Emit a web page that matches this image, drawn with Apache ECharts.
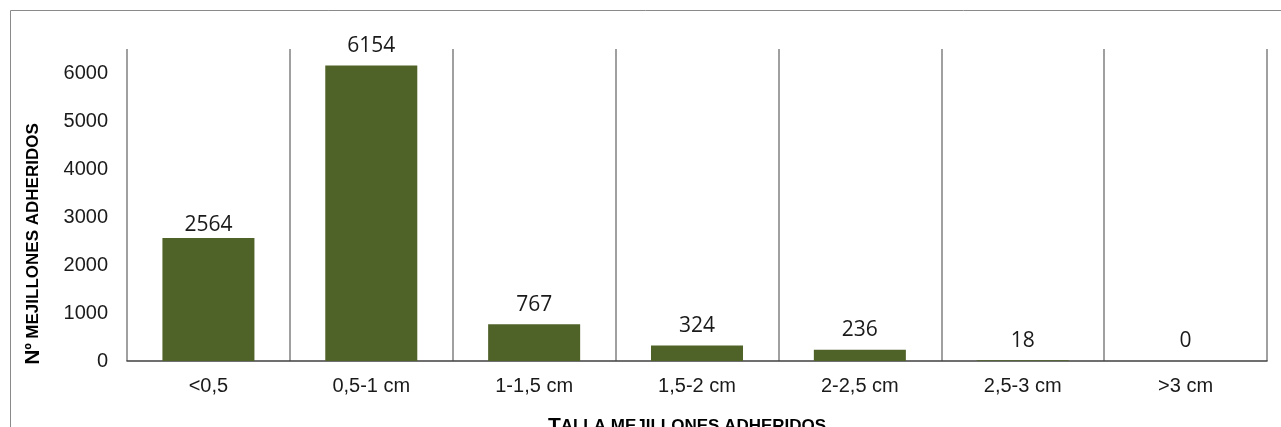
<!DOCTYPE html>
<html>
<head>
<meta charset="utf-8">
<script src="https://cdn.jsdelivr.net/npm/echarts@6/dist/echarts.min.js"></script>
<style>
html,body{margin:0;padding:0;background:#fff;}
#c{width:1281px;height:427px;}
</style>
</head>
<body>
<div id="c"></div>
<script>
const categories = ['<0,5', '0,5-1 cm', '1-1,5 cm', '1,5-2 cm', '2-2,5 cm', '2,5-3 cm', '>3 cm'];
const values = [2564, 6154, 767, 324, 236, 18, 0];
const yTicks = [0, 1000, 2000, 3000, 4000, 5000, 6000];

const chart = echarts.init(document.getElementById('c'), null, {renderer: 'canvas'});
const seriesData = values.map(function (v, i) {
  return i === 0 ? {value: v, label: {distance: 2}} : v;
});
const option = {
  animation: false,
  backgroundColor: '#ffffff',
  grid: {left: 127, right: 14, top: 49, bottom: 66, containLabel: false},
  xAxis: {
    type: 'category',
    data: categories,
    boundaryGap: true,
    axisLine: {show: true, lineStyle: {color: '#404040', width: 1.5}},
    axisTick: {show: false},
    splitLine: {show: true, lineStyle: {color: '#808080', width: 1.5}},
    axisLabel: {
      margin: 15,
      fontFamily: 'Liberation Sans, Arial, sans-serif',
      fontSize: 20,
      color: '#1a1a1a'
    }
  },
  yAxis: {
    type: 'value',
    min: 0,
    max: 6500,
    interval: 1000,
    axisLine: {show: false},
    axisTick: {show: false},
    splitLine: {show: false},
    axisLabel: {
      margin: 19,
      fontFamily: 'Liberation Sans, Arial, sans-serif',
      fontSize: 20,
      color: '#1a1a1a',
      formatter: function (v) { return yTicks.indexOf(v) >= 0 ? String(v) : ''; }
    }
  },
  series: [{
    type: 'bar',
    data: seriesData,
    barWidth: '56.5%',
    itemStyle: {color: '#4f6228'},
    label: {
      show: true,
      position: 'top',
      distance: 9,
      fontFamily: 'Open Sans, Noto Sans, sans-serif',
      fontSize: 21,
      color: '#1a1a1a'
    }
  }],
  graphic: [
    {
      type: 'polyline',
      shape: {points: [[10.5, 427], [10.5, 10.5], [1281, 10.5]]},
      style: {stroke: '#8a8a8a', lineWidth: 1, fill: null},
      silent: true
    },
    {
      type: 'text',
      x: 33,
      y: 244,
      rotation: Math.PI / 2,
      style: {
        text: '{a|N}{b|º MEJILLONES ADHERIDOS}',
        align: 'center',
        verticalAlign: 'middle',
        rich: {
          a: {fontFamily: 'Liberation Sans, Arial, sans-serif', fontWeight: 'bold', fontSize: 21, fill: '#000'},
          b: {fontFamily: 'Liberation Sans, Arial, sans-serif', fontWeight: 'bold', fontSize: 17, fill: '#000'}
        }
      }
    },
    {
      type: 'text',
      x: 687,
      y: 426,
      style: {
        text: '{a|T}{b|ALLA MEJILLONES ADHERIDOS}',
        align: 'center',
        verticalAlign: 'middle',
        rich: {
          a: {fontFamily: 'Liberation Sans, Arial, sans-serif', fontWeight: 'bold', fontSize: 21, fill: '#000'},
          b: {fontFamily: 'Liberation Sans, Arial, sans-serif', fontWeight: 'bold', fontSize: 17, fill: '#000'}
        }
      }
    }
  ]
};
chart.setOption(option);
</script>
</body>
</html>
